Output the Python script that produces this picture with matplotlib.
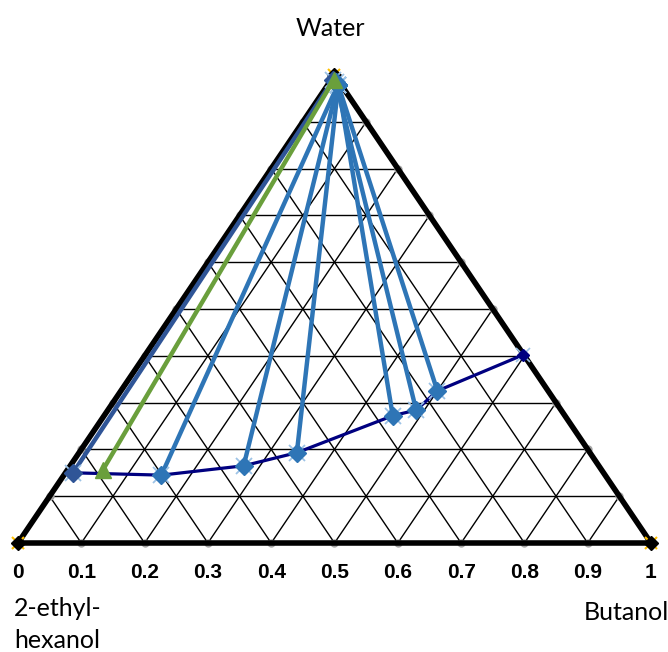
import matplotlib
matplotlib.use("Agg")
import matplotlib.pyplot as plt
import numpy as np

# ---- data (mass fractions) ----
# organic (2-ethylhexanol-rich) phase compositions
org_butanol = [0.012, 0.154, 0.274, 0.344, 0.456, 0.487, 0.500, 0.597]
org_water = [0.150, 0.145, 0.165, 0.193, 0.272, 0.284, 0.325, 0.402]
# aqueous phase ends of the tie lines (one per organic point 0..6)
aq_butanol = [0.003, 0.016, 0.016, 0.017, 0.017, 0.010, 0.017]
aq_water = [0.990, 0.978, 0.978, 0.978, 0.978, 0.984, 0.978]
# green tie line
green_org_butanol, green_org_water = 0.056, 0.156
green_aq_butanol, green_aq_water = 0.004, 0.990

tick_values = [0, 0.1, 0.2, 0.3, 0.4, 0.5, 0.6, 0.7, 0.8, 0.9, 1]
tick_labels = ["0", "0.1", "0.2", "0.3", "0.4", "0.5", "0.6", "0.7", "0.8", "0.9", "1"]


def tern(b, w):
    b = np.asarray(b, float)
    w = np.asarray(w, float)
    return b + w / 2.0, w


W, H = 668, 652
fig = plt.figure(figsize=(W / 100, H / 100), dpi=100)
ax = fig.add_axes([0, 0, 1, 1])
ax.set_xlim((0 - 18) / 633, (W - 18) / 633)
ax.set_ylim((543 - H) / 468, 543 / 468)
ax.axis("off")

# grid
for k in range(1, 10):
    f = k / 10
    x, y = tern([0, 1 - f], [f, f])
    ax.plot(x, y, color="black", lw=1.0, zorder=1)
    x, y = tern([f, f], [0, 1 - f])
    ax.plot(x, y, color="black", lw=1.0, zorder=1)
    x, y = tern([1 - f, 0], [0, 1 - f])
    ax.plot(x, y, color="black", lw=1.0, zorder=1)

# grey tick dots on edges
for k in range(1, 10):
    f = k / 10
    for bb, ww in [(f, 0), (0, f), (1 - f, f)]:
        x, y = tern(bb, ww)
        ax.plot(x, y, "o", color="#A6A6A6", ms=6, zorder=1.5, mec="none")

# triangle edges
x, y = tern([0, 1, 0, 0], [0, 0, 1, 0])
ax.plot(x, y, color="black", lw=4.0, zorder=2, solid_joinstyle="miter")
for bb, ww in [(0, 0), (1, 0), (0, 1)]:
    x, y = tern(bb, ww)
    ax.plot(x, y, "x", color="#FFC000", ms=9, mew=1.5, zorder=2.1)
    ax.plot(x, y, "D", color="black", ms=7, zorder=2.2)

# organic phase curve
x, y = tern(org_butanol, org_water)
ax.plot(x, y, color="#000080", lw=2.3, zorder=3)
ax.plot(x[-1], y[-1], "x", color="#9DC3E6", ms=10, mew=1.2, zorder=3.1)
ax.plot(x[-1], y[-1], "D", color="#000080", ms=6, zorder=3.2)

# tie lines
for i in range(len(aq_butanol)):
    col = "#2F5597" if i == 0 else "#2E75B6"
    xs, ys = tern([org_butanol[i], aq_butanol[i]], [org_water[i], aq_water[i]])
    ax.plot(xs, ys, color=col, lw=3.2, zorder=4, solid_capstyle="butt")
    ax.plot(xs, ys, "x", color="#9DC3E6", ms=12, mew=1.3, zorder=4.1, ls="none")
    ax.plot(xs, ys, "D", color=col, ms=9, zorder=4.2, ls="none")

xs, ys = tern([green_org_butanol, green_aq_butanol], [green_org_water, green_aq_water])
ax.plot(xs, ys, color="#6A9F3C", lw=3.2, zorder=4.5, solid_capstyle="butt")
ax.plot(xs, ys, "^", color="#6A9F3C", ms=11, zorder=4.6, ls="none")

# tick labels
for v, lab in zip(tick_values, tick_labels):
    ax.text(v, (543 - 573) / 468, lab, ha="center", va="center",
            fontsize=15, fontweight="bold",
            family=["Liberation Sans", "DejaVu Sans"])

# corner labels
lab_font = ["Lato", "DejaVu Sans"]
fs = 18
ax.text((330 - 18) / 633, (543 - 28) / 468, "Water", ha="center", va="center",
        fontsize=fs, family=lab_font)
ax.text((14 - 18) / 633, (543 - 608) / 468, "2-ethyl-", ha="left", va="center",
        fontsize=fs, family=lab_font)
ax.text((14 - 18) / 633, (543 - 640) / 468, "hexanol", ha="left", va="center",
        fontsize=fs, family=lab_font)
ax.text((669 - 18) / 633, (543 - 612) / 468, "Butanol", ha="right", va="center",
        fontsize=fs, family=lab_font)

fig.savefig("out.png", dpi=100)
